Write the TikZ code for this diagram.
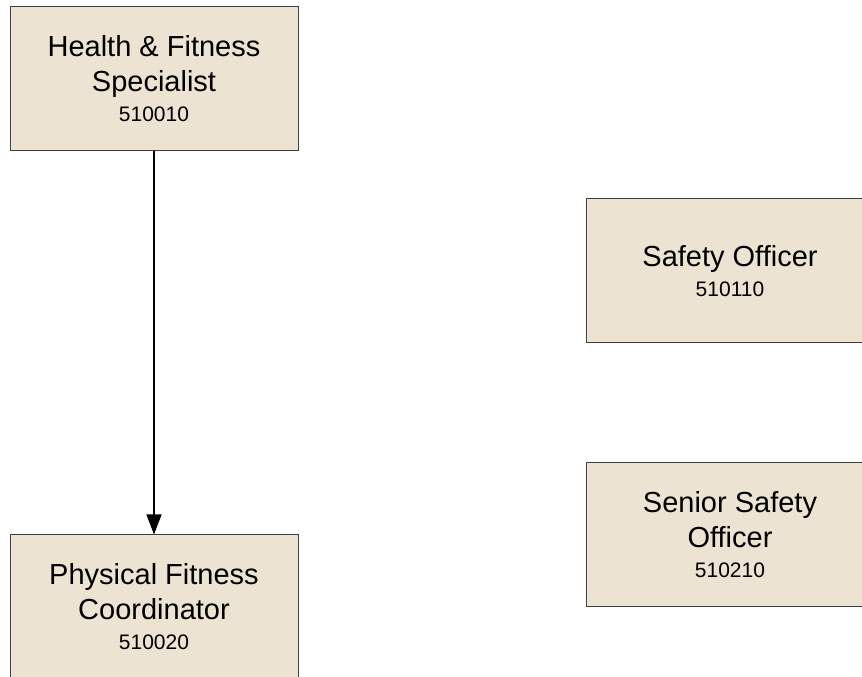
\documentclass[tikz,border=0pt]{standalone}
\usepackage{fontspec}
\setmainfont{Liberation Sans}
\usetikzlibrary{arrows.meta}
\definecolor{boxfill}{RGB}{237,227,210}
\definecolor{boxline}{RGB}{64,64,64}
\tikzset{
  rolebox/.style={draw=boxline, line width=1pt, fill=boxfill, minimum width=288pt, minimum height=144pt, inner sep=0pt, align=center, font=\fontsize{29}{35}\selectfont},
  conn/.style={draw=black, line width=1.2pt, -{Triangle[length=20pt,width=15pt]}}
}
\newcommand{\rolenum}[1]{\\[-5pt]{\fontsize{21}{25}\selectfont #1}}
\begin{document}
\begin{tikzpicture}[x=1pt,y=1pt]
\useasboundingbox (0,0) rectangle (862,677);
\fill[white] (0,0) rectangle (862,677);
\node[rolebox] (hfs) at (154,598) {Health \& Fitness\\Specialist\rolenum{510010}};
\node[rolebox] (pfc) at (154,70) {Physical Fitness\\Coordinator\rolenum{510020}};
\node[rolebox] (so) at (730,406) {Safety Officer\rolenum{510110}};
\node[rolebox] (sso) at (730,142) {Senior Safety\\Officer\rolenum{510210}};
\draw[conn] (hfs.south) -- (pfc.north);
\end{tikzpicture}
\end{document}
